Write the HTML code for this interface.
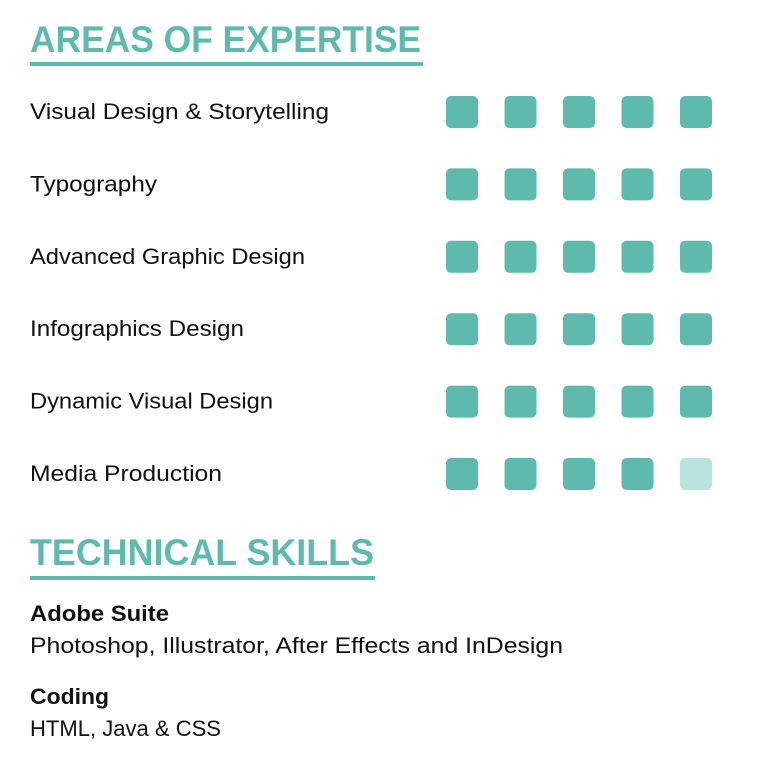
<!DOCTYPE html>
<html><head><meta charset="utf-8"><style>
html,body{margin:0;padding:0;background:#fff;}
svg{display:block;font-family:"Liberation Sans",sans-serif;}
</style></head><body>
<svg id="c" width="764" height="768">
<text x="30" y="52" font-size="37" font-weight="bold" fill="#5dbaad" textLength="391" lengthAdjust="spacingAndGlyphs">AREAS OF EXPERTISE</text>
<rect x="30" y="62" width="393" height="4" fill="#5dbaad"/>
<g id="rows"></g>
<text x="30" y="565" font-size="37" font-weight="bold" fill="#5dbaad" textLength="344" lengthAdjust="spacingAndGlyphs">TECHNICAL SKILLS</text>
<rect x="30" y="576" width="345" height="4" fill="#5dbaad"/>
<text x="30" y="621" font-size="22" font-weight="bold" fill="#111" textLength="139" lengthAdjust="spacingAndGlyphs">Adobe Suite</text>
<text x="30" y="653" font-size="22" fill="#111" textLength="533" lengthAdjust="spacingAndGlyphs">Photoshop, Illustrator, After Effects and InDesign</text>
<text x="30" y="704" font-size="22" font-weight="bold" fill="#111" textLength="79" lengthAdjust="spacingAndGlyphs">Coding</text>
<text x="30" y="736" font-size="22" fill="#111" textLength="191" lengthAdjust="spacingAndGlyphs">HTML, Java &amp; CSS</text>
</svg>
<script>
const categories=["Visual Design & Storytelling","Typography","Advanced Graphic Design","Infographics Design","Dynamic Visual Design","Media Production"];
const ratings=[5,5,5,5,5,4];
const maxRating=5;
const labelWidths=[299,127,275,214,243,192];
const ns="http://www.w3.org/2000/svg";
const g=document.getElementById('rows');
function rowY(i){return 96+i*72.4;}
function dotX(j){return 446+j*58.5;}
categories.forEach((c,i)=>{
  const t=document.createElementNS(ns,'text');
  t.setAttribute('x',30);t.setAttribute('y',rowY(i)+23);
  t.setAttribute('font-size',22);t.setAttribute('fill','#111');
  t.setAttribute('textLength',labelWidths[i]);t.setAttribute('lengthAdjust','spacingAndGlyphs');
  t.textContent=c;
  
  
  g.appendChild(t);
  for(let j=0;j<maxRating;j++){
    const r=document.createElementNS(ns,'rect');
    r.setAttribute('x',dotX(j));r.setAttribute('y',rowY(i));
    r.setAttribute('width',32);r.setAttribute('height',32);r.setAttribute('rx',5);
    r.setAttribute('fill',j<ratings[i]?'#5dbaad':'#b8e3de');
    
    
    g.appendChild(r);
  }
});
</script>
</body></html>
